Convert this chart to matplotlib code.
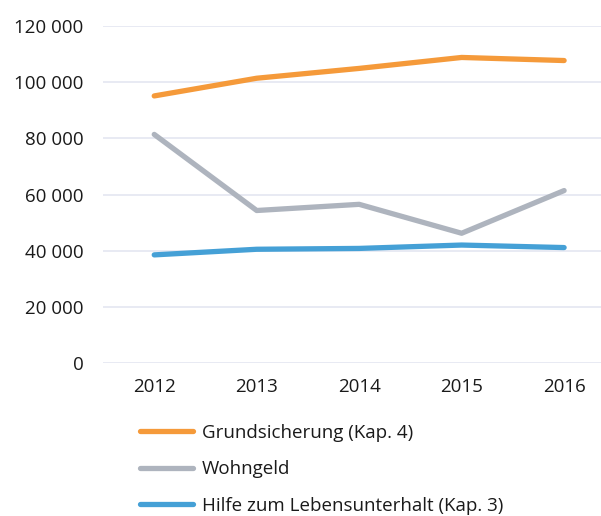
import matplotlib
matplotlib.use("Agg")
import matplotlib.pyplot as plt
from matplotlib.ticker import FuncFormatter

years = ["2012", "2013", "2014", "2015", "2016"]
grundsicherung = [95100, 101400, 104900, 108800, 107700]
wohngeld = [81400, 54300, 56500, 46200, 61400]
hilfe = [38500, 40500, 40800, 42000, 41100]

labels = ["Grundsicherung (Kap. 4)", "Wohngeld", "Hilfe zum Lebensunterhalt (Kap. 3)"]
colors = ["#F59A3A", "#AEB4BE", "#45A0D6"]

plt.rcParams["font.family"] = ["Open Sans", "DejaVu Sans"]
fs = 13.5

fig = plt.figure(figsize=(6.01, 5.16), dpi=100)
ax = fig.add_axes([103 / 601, 1 - 363 / 516, 1 - 103 / 601, (363 - 26) / 516])

x = list(range(len(years)))
for series, lab, col in zip([grundsicherung, wohngeld, hilfe], labels, colors):
    ax.plot(x, series, color=col, lw=3.8, label=lab, solid_capstyle="round", solid_joinstyle="round")

ax.set_ylim(0, 120000)
ax.set_yticks(range(0, 120001, 20000))
ax.yaxis.set_major_formatter(FuncFormatter(lambda v, p: f"{int(v):,}".replace(",", " ")))
ax.set_xlim(-0.5, 4.36)
ax.set_xticks(x)
ax.set_xticklabels(years)

ax.grid(axis="y", color="#E6E8F2", lw=1.3)
ax.set_axisbelow(True)
for s in ax.spines.values():
    s.set_visible(False)
ax.tick_params(axis="both", length=0, colors="#1a1a1a", labelsize=fs)
ax.tick_params(axis="y", pad=14)
ax.tick_params(axis="x", pad=11)

fig.legend(loc="upper left", bbox_to_anchor=(123 / 601, 1 - 407 / 516), frameon=False,
           handlelength=2.83, handletextpad=0.48, labelspacing=0.99, fontsize=fs,
           labelcolor="#1a1a1a")

fig.savefig("out.png", dpi=100)
